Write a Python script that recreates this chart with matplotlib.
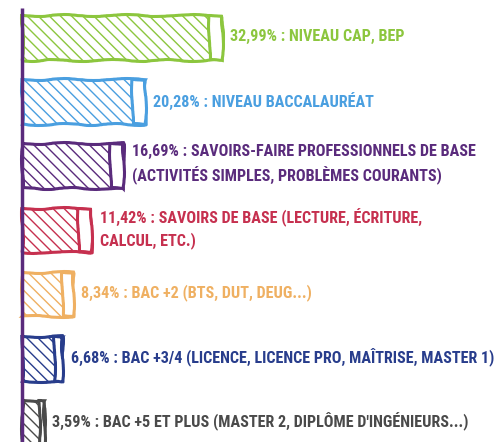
import matplotlib.pyplot as plt

values = [32.99, 20.28, 16.69, 11.42, 8.34, 6.68, 3.59]
labels = [
    "32,99% : Niveau CAP, BEP",
    "20,28% : Niveau Baccalauréat",
    "16,69% : Savoirs-faire professionnels de base\n(activités simples, problèmes courants)",
    "11,42% : Savoirs de base (lecture, écriture,\ncalcul, etc.)",
    "8,34% : Bac +2 (BTS, DUT, DEUG...)",
    "6,68% : Bac +3/4 (Licence, licence pro, maîtrise, master 1)",
    "3,59% : Bac +5 et plus (Master 2, diplôme d'ingénieurs...)",
]
colors = ["#8cc63e", "#4a9fe0", "#5a2b7c", "#c6304f", "#efb062", "#283d8c", "#4a4a4a"]

family = ["Roboto Condensed", "Liberation Sans Narrow", "DejaVu Sans"]

fig = plt.figure(figsize=(4.99, 4.42), dpi=100)
ax = fig.add_axes([0, 0, 1, 1])
ax.set_xlim(-3.63, 78.7)
ax.set_ylim(6.31, -0.59)
ax.axis("off")

texts = []
for i, (v, c, lab) in enumerate(zip(values, colors, labels)):
    bar = ax.barh(i, v, height=0.7, left=0, facecolor="white", edgecolor=c,
                  hatch="\\\\\\", linewidth=2.2, zorder=2)[0]
    bar.set_sketch_params(scale=1.0, length=80, randomness=4)
    cap = min(2.2, v * 0.2)
    capbar = ax.barh(i, cap, height=0.7, left=v - cap, facecolor="white",
                     edgecolor=c, linewidth=2.2, zorder=3)[0]
    capbar.set_sketch_params(scale=1.0, length=80, randomness=4)
    t = ax.text(v + 1.4, i - 0.02, lab.upper(), color=c, fontsize=12,
                fontweight="bold", family=family, va="center", ha="left",
                linespacing=1.45)
    texts.append(t)

ax.plot([0, 0], [-0.47, 6.31], color="#5a2b7c", lw=2.5, solid_capstyle="butt")

# shrink the labels so the longest one ends near the right edge
fig.canvas.draw()
r = fig.canvas.get_renderer()
ext = texts[5].get_window_extent(r)
scale = min((496 - ext.x0) / (ext.x1 - ext.x0), 1.0)
for t in texts:
    t.set_fontsize(12 * scale)

fig.savefig("out.png", dpi=100)
